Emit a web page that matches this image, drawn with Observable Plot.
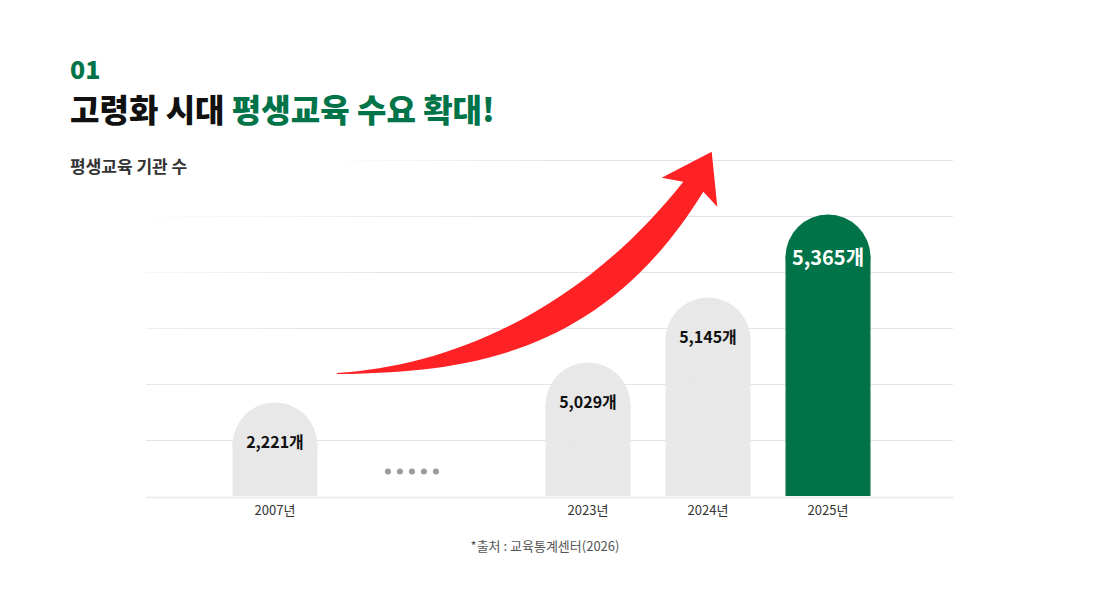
<!DOCTYPE html>
<html>
<head>
<meta charset="utf-8">
<script src="https://cdn.jsdelivr.net/npm/d3@7"></script>
<script src="https://cdn.jsdelivr.net/npm/@observablehq/plot@0.6"></script>
<style>
  body { margin: 0; background: #fff; font-family: "Noto Sans CJK KR", "Noto Sans", sans-serif; }
  #wrap { position: relative; width: 1100px; height: 600px; overflow: hidden; }
  .num { position: absolute; left: 70px; top: 56px; font-size: 25px; line-height: 1; font-weight: 800; color: #007448; }
  .title { position: absolute; left: 70px; top: 92px; font-size: 32px; line-height: 1; font-weight: 900; color: #111; white-space: nowrap; }
  .title span { color: #007448; }
  .sub { position: absolute; left: 70px; top: 157px; font-size: 17px; line-height: 1; font-weight: 700; color: #333; white-space: nowrap; }
  #chart { position: absolute; left: 0; top: 140px; }
  .note { position: absolute; left: 0; width: 1090px; top: 539px; text-align: center; font-size: 13px; line-height: 1; color: #555; }
</style>
</head>
<body>
<div id="wrap">
  <div class="num">01</div>
  <div class="title">고령화 시대 <span>평생교육 수요 확대!</span></div>
  <div class="sub">평생교육 기관 수</div>
  <div id="chart"></div>
  <div class="note">*출처 : 교육통계센터(2026)</div>
</div>
<script>
// ---- data ----
const years = [2007, 2023, 2024, 2025];
const counts = [2221, 5029, 5145, 5365];
const highlight = [false, false, false, true];
const yearSuffix = "년";
const countSuffix = "개";
const breakYear = 2014; // position of the "....." axis break

// ---- style ----
const green = "#007448";
const grey = "#e8e8e8";
const gridColor = "#e4e4ec";
const barWidth = 85;
const capR = barWidth / 2;

const data = years.map((y, i) => ({year: y, count: counts[i], hl: highlight[i]}));
const fmt = d3.format(",");

// gridline fade settings (per line, bottom to top): [start opacity, offset where full]
const gridFade = [[1, 0], [0.9, 0.1], [0.6, 0.2], [0.3, 0.3], [0.08, 0.42], [0, 0.5]];
const gridStep = 56;

const defsMark = () => {
  const defs = d3.create("svg:defs");
  gridFade.forEach(([s, o], i) => {
    const g = defs.append("linearGradient")
      .attr("id", "gridFade" + i)
      .attr("gradientUnits", "userSpaceOnUse")
      .attr("x1", 146).attr("y1", 0).attr("x2", 953).attr("y2", 0);
    g.append("stop").attr("offset", 0).attr("stop-color", gridColor).attr("stop-opacity", s);
    if (i === 5) g.append("stop").attr("offset", 0.22).attr("stop-color", gridColor).attr("stop-opacity", 0);
    g.append("stop").attr("offset", Math.max(o, 0.001)).attr("stop-color", gridColor).attr("stop-opacity", 1);
    g.append("stop").attr("offset", 1).attr("stop-color", gridColor).attr("stop-opacity", 1);
  });
  return defs.node();
};

const arrowMark = () => {
  const p = d3.create("svg:path")
    .attr("fill", "#fe2224")
    .attr("d", "M337,233 C450,226 580,172 683.3,41.7 L661.7,37.7 L711.7,11.7 L717.3,66.7 L703.3,51.7 C600,220 460,232 337,234 Z");
  return p.node();
};

const gridMarks = gridFade.map((_, i) =>
  Plot.ruleY([0], {dy: -gridStep * (i + 1), stroke: `url(#gridFade${i})`, strokeWidth: 1.2})
);

const breakDots = [-24, -12, 0, 12, 24].map(o =>
  Plot.dot([breakYear], {x: d => d, frameAnchor: "bottom", dx: o, dy: -25, r: 3, fill: "#9c9c9c"})
);

const bars = (rows, color) => [
  Plot.ruleX(rows, {x: "year", y1: "count", y2: 0, stroke: color, strokeWidth: barWidth, insetTop: capR}),
  Plot.dot(rows, {x: "year", y: "count", dy: capR, r: capR, fill: color})
];

const plot = Plot.plot({
  width: 1100,
  height: 390,
  marginLeft: 146,
  marginRight: 147,
  marginTop: 0,
  marginBottom: 34,
  style: {fontFamily: '"Noto Sans CJK KR", "Noto Sans", sans-serif', background: "transparent", overflow: "visible"},
  x: {type: "linear", domain: [2007, 2023, 2025], range: [274.5, 587.5, 827.5], label: null},
  y: {type: "linear", domain: [0, 2221, 5029, 5145, 5365], range: [356, 262, 222, 157, 74], axis: null, label: null},
  marks: [
    defsMark,
    ...gridMarks,
    Plot.ruleY([0], {stroke: "#ececec", strokeWidth: 2, dy: 1}),
    arrowMark,
    ...bars(data.filter(d => !d.hl), grey),
    ...bars(data.filter(d => d.hl), green),
    ...breakDots,
    Plot.text(data.filter(d => !d.hl), {x: "year", y: "count", dy: 40, text: d => fmt(d.count) + countSuffix, fontSize: 16, fontWeight: 700, fill: "#111"}),
    Plot.text(data.filter(d => d.hl), {x: "year", y: "count", dy: 44, text: d => fmt(d.count) + countSuffix, fontSize: 20, fontWeight: 700, fill: "#fff"}),
    Plot.axisX({ticks: years, tickFormat: d => d + yearSuffix, tickSize: 0, tickPadding: 9, fontSize: 13, fill: "#333", label: null})
  ]
});
document.getElementById("chart").appendChild(plot);
</script>
</body>
</html>
